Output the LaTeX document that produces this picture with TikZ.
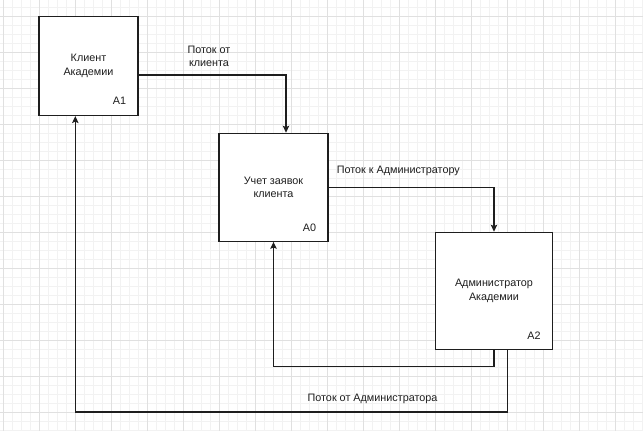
\documentclass[tikz,border=0pt]{standalone}
\usepackage{fontspec}
\setmainfont{Liberation Sans}
\usetikzlibrary{arrows.meta,calc}
\definecolor{gridminor}{RGB}{242,242,242}
\definecolor{gridmajor}{RGB}{224,224,224}
\definecolor{inkc}{RGB}{30,30,30}
\tikzset{
  boxnode/.style={draw=inkc, line width=1.2pt, fill=white, inner sep=0pt, align=center,
    font=\fontsize{10.8}{13.4}\selectfont, text=inkc},
  codelbl/.style={inner sep=0pt, font=\fontsize{10.8}{13.4}\selectfont, text=inkc},
  flowlbl/.style={inner sep=0pt, align=center, font=\fontsize{10.8}{13.4}\selectfont, text=inkc},
  flow/.style={draw=inkc, line width=1.2pt, -{Stealth[length=7pt,width=6.5pt,inset=1.5pt]}},
  gminor/.style={draw=gridminor, line width=0.8pt},
  gmajor/.style={draw=gridmajor, line width=0.9pt}
}
\begin{document}
\begin{tikzpicture}[x=1pt,y=-1pt]
\useasboundingbox (0,0) rectangle (643,431);
\fill[white] (0,0) rectangle (643,431);
% grid
\foreach \i in {0,...,71} \draw[gminor] ({3+9*\i},0) -- ({3+9*\i},431);
\foreach \j in {0,...,47} \draw[gminor] (0,{7.3+9*\j}) -- (643,{7.3+9*\j});
\foreach \i in {0,...,17} \draw[gmajor] ({3+36*\i},0) -- ({3+36*\i},431);
\foreach \j in {0,...,11} \draw[gmajor] (0,{16.3+36*\j}) -- (643,{16.3+36*\j});
% boxes
\node[boxnode, minimum width=99pt, minimum height=99pt] (A1) at (88.5,66) {Клиент\\Академии};
\node[boxnode, minimum width=109pt, minimum height=108pt] (A0) at (273.5,187.3) {Учет заявок\\клиента};
\node[boxnode, minimum width=117pt, minimum height=117pt] (A2) at (494,290.8) {Администратор\\Академии};
\node[codelbl] (A1c) at ([xshift=-19pt,yshift=15pt]A1.south east) {A1};
\node[codelbl] (A0c) at ([xshift=-19pt,yshift=14pt]A0.south east) {A0};
\node[codelbl] (A2c) at ([xshift=-19pt,yshift=14pt]A2.south east) {A2};
% connectors
\draw[flow] ([yshift=-9pt]A1.east) -| ([xshift=12.5pt]A0.north);
\node[flowlbl] (L1) at (209,56.5) {Поток от\\клиента};
\draw[flow] (A0.east) -| (A2.north);
\node[flowlbl] (L2) at (398.3,171) {Поток к Администратору};
\coordinate (r1) at (273.5,366.7);
\draw[flow] (A2.south) |- (r1) -- (A0.south);
\coordinate (r2) at (75.3,412);
\draw[flow] ([xshift=13.3pt]A2.south) |- (r2) -- (A1.south -| r2);
\node[flowlbl] (L3) at (372.5,398.7) {Поток от Администратора};
\end{tikzpicture}
\end{document}
